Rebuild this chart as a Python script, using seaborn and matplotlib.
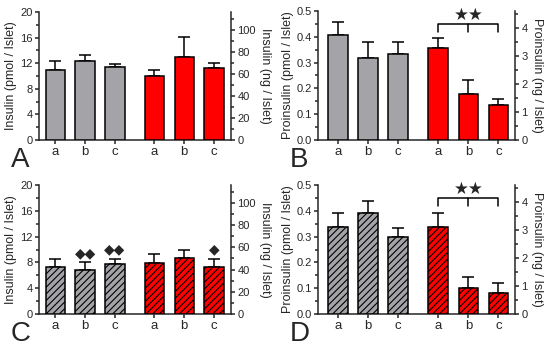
import numpy as np
import pandas as pd
import seaborn as sns
import matplotlib.pyplot as plt
from matplotlib.ticker import MultipleLocator

# data (means and upper SEM tips)
labels = ["a", "b", "c", "a", "b", "c"]
groups = ["ctrl", "ctrl", "ctrl", "trt", "trt", "trt"]

ins_A = [10.9, 12.3, 11.4, 10.0, 13.0, 11.3]
ins_A_top = [12.3, 13.3, 11.8, 11.0, 16.1, 12.1]
pro_B = [0.407, 0.317, 0.333, 0.355, 0.177, 0.136]
pro_B_top = [0.456, 0.379, 0.379, 0.397, 0.233, 0.160]
ins_C = [7.35, 6.8, 7.75, 7.9, 8.7, 7.35]
ins_C_top = [8.55, 8.0, 8.5, 9.3, 9.95, 8.6]
pro_D = [0.336, 0.392, 0.297, 0.338, 0.101, 0.081]
pro_D_top = [0.392, 0.437, 0.334, 0.392, 0.142, 0.120]

diamonds_C = ["", "◆◆", "◆◆", "", "", "◆"]

pos = [0, 1, 2, 3.33, 4.33, 5.33]
pal = {"ctrl": "#A4A4A8", "trt": "#FF0000"}

sns.set_style("ticks")
plt.rcParams['font.family'] = ['Liberation Sans', 'DejaVu Sans']
plt.rcParams['axes.linewidth'] = 1.1
plt.rcParams['hatch.linewidth'] = 0.8

fig = plt.figure(figsize=(5.5, 3.47), dpi=100)
W, H = 550, 347


def panel(box, vals, tops, ymax, ystep, rmax, rstep, lab, letter, hatch, xlim):
    l, r, t, b = box
    ax = fig.add_axes([l / W, 1 - b / H, (r - l) / W, (b - t) / H])
    df = pd.DataFrame({"x": pos, "y": vals, "g": groups})
    sns.barplot(data=df, x="x", y="y", hue="g", palette=pal, native_scale=True,
                dodge=False, width=0.65, errorbar=None, legend=False, saturation=1,
                edgecolor="black", linewidth=1.1, ax=ax, zorder=3)
    if hatch:
        for p in ax.patches:
            p.set_hatch("/////")
    err = np.array(tops) - np.array(vals)
    ax.errorbar(pos, vals, yerr=[np.zeros(6), err], fmt="none", ecolor="black",
                elinewidth=1.1, capsize=4, capthick=1.1, zorder=2)
    ax.set_xlim(*xlim)
    ax.set_ylim(0, ymax)
    ax.yaxis.set_major_locator(MultipleLocator(ystep))
    ax.yaxis.set_minor_locator(MultipleLocator(ystep / 2))
    ax.set_xticks(pos)
    ax.set_xticklabels(labels)
    ax.set_xlabel("")
    ax.set_ylabel(lab + " (pmol / Islet)", fontsize=9, labelpad=2)
    ax.tick_params(labelsize=8, length=3, width=1.1, pad=1.5)
    ax.tick_params(axis="x", labelsize=9.5)
    ax.tick_params(which="minor", length=2, width=1.1)
    ax.spines["top"].set_visible(False)
    ax.spines["right"].set_visible(False)
    if ystep < 1:
        ax.yaxis.set_major_formatter(plt.FormatStrFormatter("%.1f"))
    tw = ax.twinx()
    tw.set_ylim(0, rmax)
    tw.yaxis.set_major_locator(MultipleLocator(rstep))
    tw.yaxis.set_minor_locator(MultipleLocator(rstep / 2))
    tw.tick_params(labelsize=8, length=3, width=1.1, pad=1.5)
    tw.tick_params(which="minor", length=2, width=1.1)
    tw.spines["top"].set_visible(False)
    tw.spines["left"].set_visible(False)
    tw.spines["bottom"].set_visible(False)
    tw.set_ylabel(lab + " (ng / Islet)", fontsize=9, rotation=270, labelpad=11)
    fig.text((l - 28) / W, 1 - (b + 27) / H, letter, fontsize=20, va="baseline")
    return ax


def bracket(ax, ymax):
    yb = ymax * 0.896
    yt = ymax * 0.84
    ax.plot([pos[3], pos[3], pos[5], pos[5]], [yt, yb, yb, yt], color="black", lw=1.1)
    ax.plot([pos[4], pos[4]], [yb, yt], color="black", lw=1.1)
    ax.text(pos[4], yb + ymax * 0.005, "★★", ha="center", va="bottom", fontsize=12,
            family="DejaVu Sans")


axA = panel((39, 231, 12, 140), ins_A, ins_A_top, 20, 4, 116, 20, "Insulin", "A", False, (-0.55, 5.9))
axB = panel((318, 515, 11, 140), pro_B, pro_B_top, 0.5, 0.1, 4.61, 1, "Proinsulin", "B", False, (-0.66, 5.88))
bracket(axB, 0.5)
axC = panel((39, 231, 185, 314), ins_C, ins_C_top, 20, 4, 116, 20, "Insulin", "C", True, (-0.55, 5.9))
for x, t, d in zip(pos, ins_C_top, diamonds_C):
    if d:
        axC.text(x, t + 0.4, d, ha="center", va="bottom", fontsize=10, family="DejaVu Sans")
axD = panel((318, 515, 185, 314), pro_D, pro_D_top, 0.5, 0.1, 4.61, 1, "Proinsulin", "D", True, (-0.66, 5.88))
bracket(axD, 0.5)

fig.savefig("out.png", dpi=100)
